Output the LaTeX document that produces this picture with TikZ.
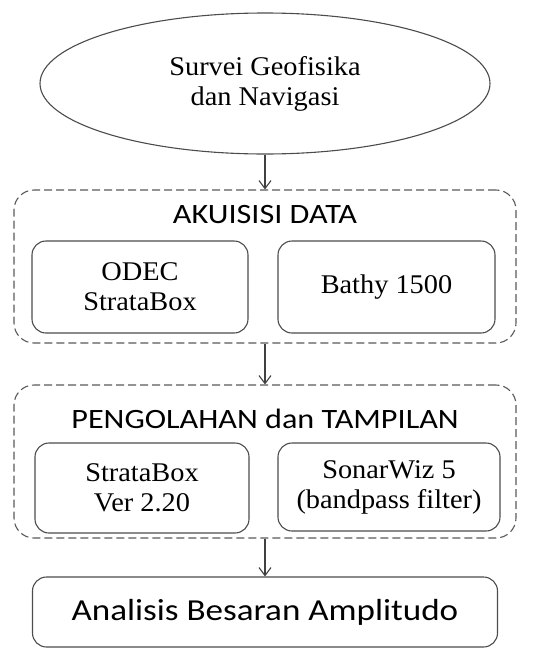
\documentclass[tikz,border=0pt]{standalone}
\usepackage{fontspec}
\setmainfont[FakeStretch=1.05]{Liberation Serif}
\newfontfamily\headfont[FakeStretch=1.15]{Carlito}
\usetikzlibrary{shapes.geometric,arrows.meta,positioning}

\begin{document}
\begin{tikzpicture}[x=1pt, y=-1pt, line width=1.1pt,
		toolbox/.style={draw=black!70, rounded corners=14pt, inner sep=0pt, align=center,
			minimum width=216pt, minimum height=92pt, font=\fontsize{27}{30}\selectfont},
		groupbox/.style={draw=black!65, dash pattern=on 8pt off 4pt, rounded corners=20pt,
			inner sep=0pt, minimum width=502pt, minimum height=153pt},
		heading/.style={anchor=base, inner sep=0pt, font=\headfont\fontsize{28}{30}\selectfont},
		arr/.style={draw=black!75, -{Straight Barb[length=8pt,width=12pt]}}]
	\useasboundingbox (0,0) rectangle (551,651);
	\node[draw=black!70, ellipse, minimum width=450pt, minimum height=141pt, inner sep=0pt,
		align=center, font=\fontsize{27}{30}\selectfont] (survei) at (265,83.5) {Survei Geofisika\\dan Navigasi};
	% akuisisi data
	\node[groupbox] (akuisisi) at (265,266.5) {};
	\node[heading] (judul1) at (265,223) {AKUISISI DATA};
	\node[toolbox] (odec) at (140,287) {ODEC\\StrataBox};
	\node[toolbox, minimum width=217pt] (bathy) at (386.5,287) {Bathy 1500};
	% pengolahan dan tampilan
	\node[groupbox] (pengolahan) at (265,461.5) {};
	\node[heading] (judul2) at (265,428) {PENGOLAHAN dan TAMPILAN};
	\node[toolbox, minimum width=214pt, minimum height=90pt] (stratabox) at (142,488) {StrataBox\\Ver 2.20};
	\node[toolbox, minimum width=222pt, minimum height=88pt] (sonarwiz) at (389,487) {SonarWiz 5\\(bandpass filter)};
	\node[toolbox, minimum width=465pt, minimum height=70pt, font=\headfont\fontsize{30.5}{32}\selectfont]
		(analisis) at (265,612) {Analisis Besaran Amplitudo};
	\draw[arr] (survei.south) -- (akuisisi.north);
	\draw[arr] (akuisisi.south) -- (pengolahan.north);
	\draw[arr] (pengolahan.south) -- (analisis.north);
\end{tikzpicture}
\end{document}
